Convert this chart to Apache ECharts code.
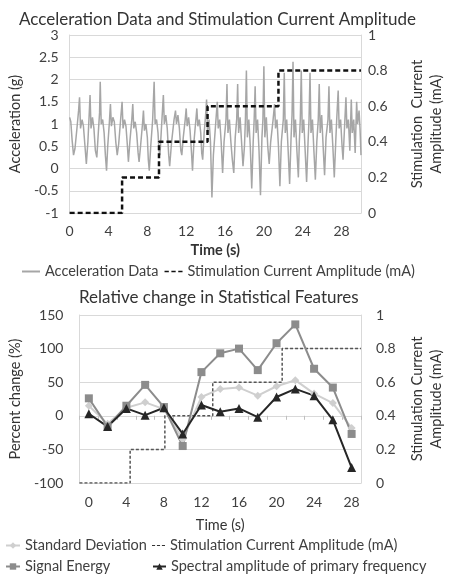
<!DOCTYPE html>
<html>
<head>
<meta charset="utf-8">
<script src="https://cdn.jsdelivr.net/npm/echarts@6/dist/echarts.min.js"></script>
<style>
  html, body { margin: 0; padding: 0; background: #fff; }
  #chart { width: 454px; height: 574px; }
</style>
</head>
<body>
<div id="chart"></div>
<script>
// top panel: acceleration trace, [time s, g]
const accelData = [
  [0.00,1.15],[0.12,1.05],[0.25,0.65],[0.4,0.3],[0.55,0.45],[0.75,0.9],[0.92,1.3],[1.02,1.6],[1.12,0.9],[1.28,1.1],
  [1.42,0.95],[1.58,0.5],[1.72,0.1],[1.88,0.6],[2.02,1.25],[2.1,1.65],[2.2,0.9],[2.35,1.15],[2.5,0.9],[2.65,0.4],
  [2.8,0.25],[2.95,0.8],[3.08,1.25],[3.15,1.95],[3.25,1.0],[3.4,1.1],[3.55,0.8],[3.68,0.3],[3.8,-0.05],[3.92,0.5],
  [4.08,1.0],[4.2,1.45],[4.3,0.95],[4.45,1.15],[4.6,1.05],[4.75,0.6],[4.9,0.3],[5.05,0.55],[5.25,1.1],[5.4,1.5],
  [5.5,0.9],[5.65,1.1],[5.8,0.95],[5.95,0.5],[6.05,0.15],[6.2,0.6],[6.4,1.1],[6.5,1.45],[6.6,0.9],[6.75,1.05],
  [6.9,0.8],[7.05,0.35],[7.15,0.15],[7.3,0.5],[7.5,1.0],[7.6,1.3],[7.7,0.85],[7.85,1.0],[8.0,0.7],[8.1,0.2],
  [8.2,-0.05],[8.35,0.5],[8.55,1.1],[8.7,1.95],[8.8,1.0],[8.95,1.1],[9.1,0.8],[9.2,0.4],[9.3,0.3],[9.45,0.9],
  [9.65,1.65],[9.75,1.0],[9.9,1.2],[10.05,0.9],[10.2,0.3],[10.3,0.05],[10.5,0.6],[10.75,1.1],[10.9,1.3],[11.0,1.0],
  [11.15,1.2],[11.3,0.9],[11.45,0.4],[11.55,0.3],[11.7,0.7],[11.9,1.1],[12.0,1.35],[12.1,0.95],[12.25,1.15],[12.4,0.85],
  [12.55,0.35],[12.65,-0.05],[12.8,0.6],[13.0,1.1],[13.1,1.35],[13.2,0.95],[13.35,1.1],[13.5,0.8],[13.6,0.35],[13.7,0.2],
  [13.85,0.8],[14.0,1.2],[14.1,1.55],[14.2,0.8],[14.35,1.1],[14.5,0.6],[14.65,-0.65],[14.8,0.3],[15.0,0.9],[15.2,1.5],
  [15.3,0.9],[15.45,1.1],[15.6,0.6],[15.75,-0.1],[15.9,0.6],[16.1,1.1],[16.2,1.9],[16.3,0.8],[16.45,1.1],[16.6,0.6],
  [16.75,0.2],[16.9,-0.1],[17.05,0.7],[17.2,1.1],[17.3,1.9],[17.4,0.8],[17.55,1.15],[17.7,0.6],[17.85,0.05],[18.0,0.5],
  [18.1,1.1],[18.2,2.2],[18.3,0.7],[18.45,1.1],[18.6,0.5],[18.75,-0.45],[18.9,0.6],[19.0,1.1],[19.1,1.85],[19.2,0.8],
  [19.35,1.1],[19.5,0.4],[19.65,-0.6],[19.8,0.7],[19.9,1.1],[20.0,2.3],[20.1,0.7],[20.25,1.15],[20.4,0.5],[20.55,0.1],
  [20.7,0.6],[20.95,1.1],[21.1,1.45],[21.2,0.9],[21.35,1.1],[21.5,0.5],[21.65,-0.4],[21.8,0.6],[22.0,1.1],[22.1,2.15],
  [22.2,0.8],[22.35,1.1],[22.5,0.4],[22.65,-0.35],[22.8,0.7],[22.9,1.2],[23.0,2.4],[23.1,0.7],[23.25,1.1],[23.4,0.4],
  [23.55,-0.2],[23.65,0.6],[23.75,1.1],[23.85,2.2],[23.95,0.8],[24.1,1.1],[24.25,0.4],[24.4,-0.3],[24.55,0.6],[24.65,1.1],
  [24.75,2.15],[24.85,0.8],[25.0,1.1],[25.15,0.4],[25.3,-0.25],[25.45,0.6],[25.6,1.1],[25.7,1.9],[25.8,0.8],[25.95,1.2],
  [26.1,0.5],[26.25,-0.15],[26.4,0.7],[26.6,1.1],[26.7,1.85],[26.8,0.8],[26.95,1.1],[27.1,0.5],[27.25,-0.2],[27.4,0.6],
  [27.5,1.1],[27.65,1.75],[27.75,0.9],[27.9,1.1],[28.05,0.5],[28.15,0.2],[28.3,0.9],[28.45,1.6],[28.55,0.9],[28.7,1.1],
  [28.85,0.4],[29.0,1.55],[29.1,0.8],[29.25,1.1],[29.4,0.35],[29.55,1.5],[29.65,1.0],[29.8,1.3],[29.9,0.9],[30.0,0.3]
];

// stimulation current steps (top panel)
const stimTopTimes = [0, 5.4, 9.2, 14.2, 21.5, 30];
const stimTopLevels = [0, 0.2, 0.4, 0.6, 0.8, 0.8];

// bottom panel: features every 2 s
const featureTimes = ['0', '2', '4', '6', '8', '10', '12', '14', '16', '18', '20', '22', '24', '26', '28'];
const stdDev       = [15, -12, 12, 20, 10, -35, 28, 40, 42, 30, 44, 53, 33, 19, -18];
const signalEnergy = [26, -16, 15, 46, 13, -45, 65, 93, 100, 68, 108, 136, 70, 42, -27];
const spectralAmp  = [3, -16, 11, 1, 12, -27, 16, 6, 11, -2, 28, 40, 30, -6, -77];

// stimulation current steps (bottom panel)
const stimBottomTimes = [-1, 4.4, 8.1, 13.2, 20.6, 29];
const stimBottomLevels = [0, 0.2, 0.4, 0.6, 0.8, 0.8];

const FONT = 'Lato';
const TXT = '#404040';
const GRID_COLOR = '#d9d9d9';
// legend icon: three short dashes
const DASH_ICON = 'path://M0,0h5v2h-5z M8,0h5v2h-5z M16,0h5v2h-5z';

const chart = echarts.init(document.getElementById('chart'), null, { renderer: 'canvas' });

function pairs(xs, ys) {
  return xs.map((x, i) => [x, ys[i]]);
}

const labelStyle = { color: TXT, fontFamily: FONT, fontSize: 14 };
const legendText = { color: TXT, fontFamily: FONT, fontSize: 14.5 };
const nameStyle = { fontFamily: FONT, fontSize: 14.5, color: '#333' };

chart.setOption({
  animation: false,
  backgroundColor: '#fff',
  textStyle: { fontFamily: FONT, color: TXT },
  title: [
    {
      text: 'Acceleration Data and Stimulation Current Amplitude',
      left: 14, top: 6,
      textStyle: { fontFamily: FONT, fontSize: 17, fontWeight: 'normal', color: '#333' }
    },
    {
      text: 'Relative change in Statistical Features',
      left: 74, top: 284,
      textStyle: { fontFamily: FONT, fontSize: 17, fontWeight: 'normal', color: '#333' }
    }
  ],
  legend: [
    {
      data: [
        { name: 'Acceleration Data', icon: 'rect' },
        { name: 'Stimulation Current Amplitude (mA)', icon: DASH_ICON }
      ],
      left: 17, top: 259, itemWidth: 18, itemHeight: 2, itemGap: 6,
      textStyle: legendText
    },
    {
      data: ['Standard Deviation'],
      left: 0, top: 533, itemWidth: 14, itemHeight: 8,
      textStyle: legendText
    },
    {
      data: [{ name: 'Stimulation Current Amplitude (mA) ', icon: DASH_ICON }],
      left: 147, top: 533, itemWidth: 13, itemHeight: 2,
      textStyle: legendText
    },
    {
      data: ['Signal Energy'],
      left: 0, top: 554, itemWidth: 14, itemHeight: 8,
      textStyle: legendText
    },
    {
      data: ['Spectral amplitude of primary frequency'],
      left: 147, top: 554, itemWidth: 13, itemHeight: 8,
      textStyle: legendText
    }
  ],
  grid: [
    { left: 54, right: 82, top: 35, height: 178 },
    { left: 60, right: 82, top: 315, height: 168 }
  ],
  xAxis: [
    {
      gridIndex: 0, type: 'value', min: 0, max: 30, interval: 4,
      name: 'Time (s)', nameLocation: 'middle', nameGap: 30,
      nameTextStyle: Object.assign({}, nameStyle, { fontWeight: 'bold' }),
      axisLine: { onZero: false, lineStyle: { color: GRID_COLOR } },
      axisTick: { show: false },
      axisLabel: Object.assign({ margin: 11, showMaxLabel: false }, labelStyle),
      splitLine: { show: false }
    },
    {
      gridIndex: 1, type: 'category', data: featureTimes,
      name: 'Time (s)', nameLocation: 'middle', nameGap: 35,
      nameTextStyle: nameStyle,
      axisLine: { onZero: false, lineStyle: { color: GRID_COLOR } },
      axisTick: { show: false },
      axisLabel: Object.assign({ margin: 12, interval: 1 }, labelStyle),
      splitLine: { show: false }
    },
    {
      // tick marks along the zero line
      gridIndex: 1, type: 'category', data: featureTimes, position: 'bottom',
      axisLine: { onZero: true, lineStyle: { color: GRID_COLOR } },
      axisTick: { show: true, length: 4, interval: 0, lineStyle: { color: '#bfbfbf' } },
      axisLabel: { show: false },
      splitLine: { show: false }
    },
    {
      gridIndex: 1, type: 'value', min: -1, max: 29, show: false,
      axisLine: { onZero: false }
    }
  ],
  yAxis: [
    {
      gridIndex: 0, type: 'value', min: -1, max: 3, interval: 0.5,
      name: 'Acceleration (g)', nameLocation: 'middle', nameRotate: 90, nameGap: 38,
      nameTextStyle: nameStyle,
      axisLine: { show: true, onZero: false, lineStyle: { color: GRID_COLOR } },
      axisTick: { show: false },
      axisLabel: Object.assign({ margin: 11 }, labelStyle),
      splitLine: { lineStyle: { color: GRID_COLOR } }
    },
    {
      gridIndex: 0, type: 'value', min: 0, max: 1, interval: 0.2, position: 'right',
      name: 'Stimulation  Current\nAmplitude (mA)', nameLocation: 'middle', nameRotate: 90, nameGap: 47,
      nameTextStyle: Object.assign({ lineHeight: 19 }, nameStyle),
      axisLine: { show: true, onZero: false, lineStyle: { color: GRID_COLOR } },
      axisTick: { show: false },
      axisLabel: Object.assign({ margin: 7 }, labelStyle),
      splitLine: { show: false }
    },
    {
      gridIndex: 1, type: 'value', min: -100, max: 150, interval: 50,
      name: 'Percent change (%)', nameLocation: 'middle', nameRotate: 90, nameGap: 44,
      nameTextStyle: nameStyle,
      axisLine: { show: true, onZero: false, lineStyle: { color: GRID_COLOR } },
      axisTick: { show: false },
      axisLabel: Object.assign({ margin: 16 }, labelStyle),
      splitLine: { lineStyle: { color: GRID_COLOR } }
    },
    {
      gridIndex: 1, type: 'value', min: 0, max: 1, interval: 0.2, position: 'right',
      name: 'Stimulation Current\nAmplitude (mA)', nameLocation: 'middle', nameRotate: 90, nameGap: 47,
      nameTextStyle: Object.assign({ lineHeight: 19 }, nameStyle),
      axisLine: { show: true, onZero: false, lineStyle: { color: GRID_COLOR } },
      axisTick: { show: false },
      axisLabel: Object.assign({ margin: 15 }, labelStyle),
      splitLine: { show: false }
    }
  ],
  series: [
    {
      name: 'Acceleration Data', type: 'line',
      xAxisIndex: 0, yAxisIndex: 0,
      data: accelData, symbol: 'none',
      lineStyle: { color: '#a6a6a6', width: 1.5 },
      itemStyle: { color: '#a6a6a6' }
    },
    {
      name: 'Stimulation Current Amplitude (mA)', type: 'line',
      xAxisIndex: 0, yAxisIndex: 1,
      data: pairs(stimTopTimes, stimTopLevels), step: 'end', symbol: 'none',
      lineStyle: { color: '#111', width: 2.5, type: [5, 3] },
      itemStyle: { color: '#111' }
    },
    {
      name: 'Standard Deviation', type: 'line',
      xAxisIndex: 1, yAxisIndex: 2,
      data: stdDev, symbol: 'diamond', symbolSize: 8,
      lineStyle: { color: '#cfcfcf', width: 2 },
      itemStyle: { color: '#cfcfcf' }
    },
    {
      name: 'Stimulation Current Amplitude (mA) ', type: 'line',
      xAxisIndex: 3, yAxisIndex: 3,
      data: pairs(stimBottomTimes, stimBottomLevels), step: 'end', symbol: 'none',
      lineStyle: { color: '#555', width: 1.5, type: [3, 2] },
      itemStyle: { color: '#333' }
    },
    {
      name: 'Signal Energy', type: 'line',
      xAxisIndex: 1, yAxisIndex: 2,
      data: signalEnergy, symbol: 'rect', symbolSize: 8,
      lineStyle: { color: '#8c8c8c', width: 2 },
      itemStyle: { color: '#8c8c8c' }
    },
    {
      name: 'Spectral amplitude of primary frequency', type: 'line',
      xAxisIndex: 1, yAxisIndex: 2,
      data: spectralAmp, symbol: 'triangle', symbolSize: 9,
      lineStyle: { color: '#262626', width: 2 },
      itemStyle: { color: '#262626' }
    }
  ]
});
</script>
</body>
</html>
